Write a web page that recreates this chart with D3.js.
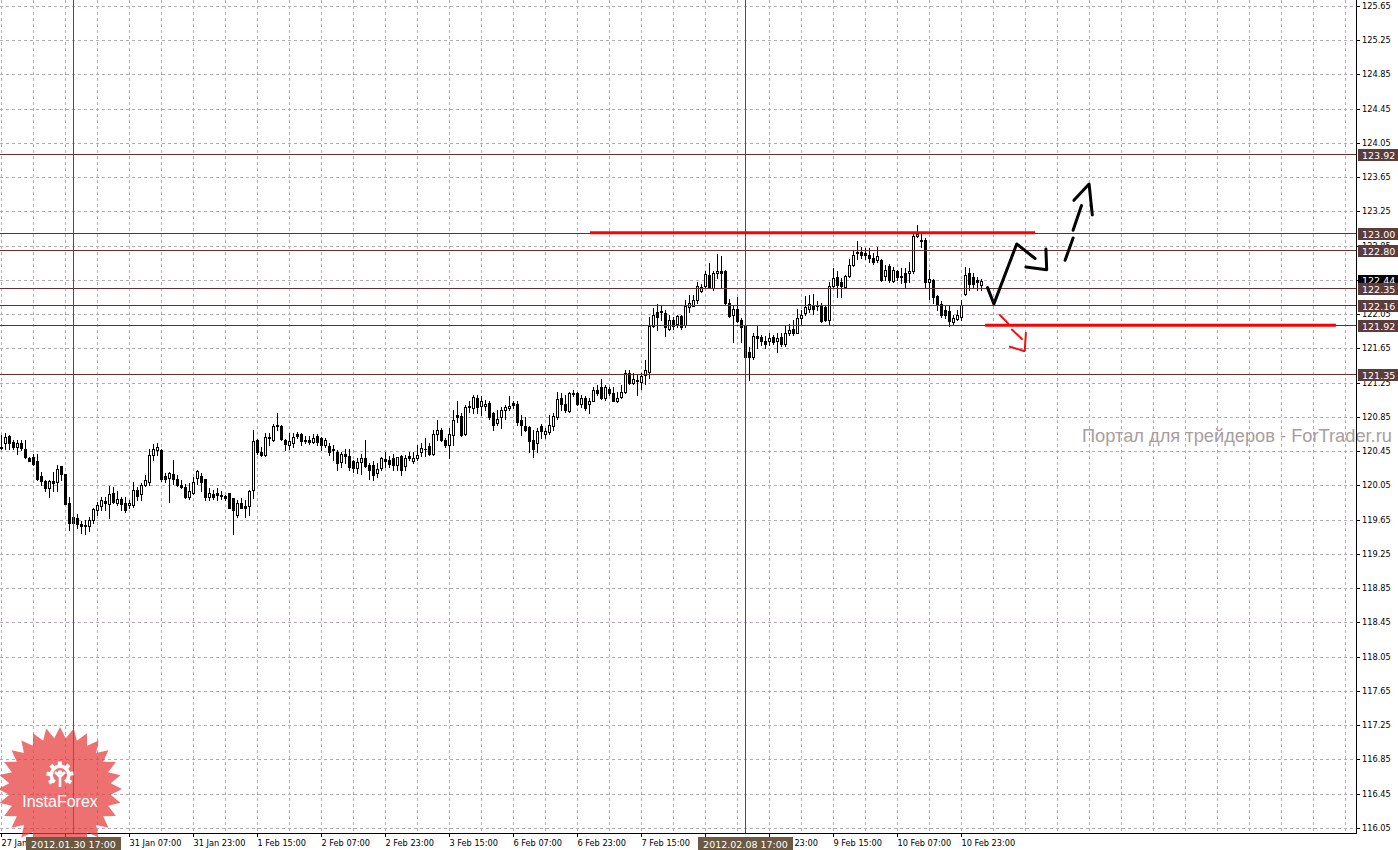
<!DOCTYPE html>
<html><head><meta charset="utf-8">
<script src="https://cdnjs.cloudflare.com/ajax/libs/d3/7.8.5/d3.min.js"></script>
<style>html,body{margin:0;padding:0;background:#fff;overflow:hidden}</style>
</head><body>
<svg id="c" width="1398" height="850" xmlns="http://www.w3.org/2000/svg"></svg>
<script>
// ---------- DATA (H1 candles, 27 Jan 23:00 .. ) ----------
const openP = [
120.50,120.55,120.63,120.56,120.50,120.55,120.47,120.37,120.38,120.33,
120.16,120.10,120.02,120.10,120.09,120.28,120.18,119.84,119.61,119.67,
119.60,119.59,119.58,119.65,119.76,119.81,119.87,119.83,119.96,119.85,
119.89,119.85,119.82,119.82,120.00,119.95,120.05,120.09,120.40,120.46,
120.46,120.16,120.14,120.18,120.12,120.05,120.03,119.92,119.96,120.14,
120.16,120.12,119.91,119.95,119.96,119.94,119.93,119.96,119.90,119.70,
119.85,119.81,119.81,120.00,120.58,120.44,120.40,120.62,120.58,120.75,
120.74,120.58,120.52,120.55,120.65,120.65,120.58,120.58,120.56,120.63,
120.60,120.52,120.51,120.46,120.44,120.32,120.42,120.39,120.33,120.25,
120.32,120.37,120.29,120.29,120.19,120.25,120.36,120.35,120.37,120.29,
120.39,120.28,120.39,120.33,120.37,120.44,120.47,120.51,120.42,120.65,
120.70,120.58,120.52,120.64,120.87,120.86,120.65,120.96,120.95,121.07,
120.98,120.98,121.01,120.89,120.78,120.85,120.93,120.95,121.01,121.00,
120.81,120.74,120.73,120.58,120.54,120.74,120.65,120.67,120.74,120.85,
121.07,121.00,120.92,121.13,121.13,121.00,121.07,121.00,121.04,121.17,
121.20,121.07,121.18,121.13,121.03,121.08,121.14,121.36,121.25,121.28,
121.26,121.34,121.38,121.91,122.07,122.07,122.06,121.88,121.98,121.94,
122.03,121.92,122.13,122.15,122.22,122.32,122.38,122.51,122.35,122.53,
122.55,122.55,122.18,122.04,122.11,121.98,121.91,121.61,121.55,121.79,
121.78,121.74,121.74,121.78,121.74,121.78,121.70,121.83,121.88,121.83,
122.01,122.06,122.11,122.16,122.14,122.16,122.13,121.98,122.38,122.48,
122.43,122.37,122.50,122.62,122.78,122.78,122.76,122.74,122.71,122.68,
122.68,122.50,122.61,122.44,122.55,122.48,122.53,122.53,122.55,122.96,
122.92,122.92,122.43,122.45,122.26,122.17,122.10,122.09,121.96,121.99,
122.02,122.29,122.53,122.49,122.45,122.39];
const highP = [
120.64,120.66,120.64,120.58,120.58,120.58,120.58,120.38,120.42,120.42,
120.21,120.11,120.11,120.21,120.29,120.28,120.18,119.92,119.70,119.72,
119.63,119.65,119.68,119.78,119.86,119.92,119.91,120.04,120.03,119.98,
119.92,119.92,119.88,120.09,120.03,120.08,120.17,120.47,120.53,120.54,
120.47,120.19,120.21,120.35,120.17,120.11,120.07,120.08,120.15,120.23,
120.19,120.13,120.02,120.00,120.02,119.99,119.94,119.96,119.90,119.88,
119.90,119.88,120.00,120.70,120.59,120.50,120.66,120.66,120.77,120.90,
120.75,120.59,120.66,120.66,120.67,120.66,120.63,120.63,120.65,120.65,
120.62,120.60,120.54,120.52,120.46,120.44,120.48,120.48,120.35,120.37,
120.42,120.58,120.31,120.33,120.31,120.38,120.44,120.39,120.42,120.38,
120.40,120.40,120.44,120.44,120.52,120.54,120.60,120.54,120.70,120.81,
120.72,120.60,120.72,120.93,121.03,120.89,120.99,121.03,121.11,121.11,
121.09,121.05,121.04,120.91,120.93,120.97,120.99,121.09,121.04,121.03,
120.87,120.85,120.74,120.70,120.72,120.77,120.72,120.87,120.89,121.14,
121.13,121.11,121.14,121.16,121.14,121.11,121.09,121.07,121.20,121.22,
121.29,121.22,121.20,121.20,121.14,121.22,121.40,121.40,121.36,121.34,
121.36,121.51,122.02,122.12,122.17,122.16,122.10,122.04,122.02,122.04,
122.04,122.22,122.27,122.27,122.43,122.40,122.55,122.65,122.55,122.75,
122.73,122.57,122.23,122.16,122.25,122.00,121.92,121.67,121.83,121.91,
121.81,121.79,121.83,121.81,121.83,121.83,121.91,121.94,121.98,122.11,
122.10,122.26,122.27,122.29,122.20,122.18,122.16,122.43,122.59,122.55,
122.47,122.51,122.69,122.79,122.90,122.84,122.82,122.82,122.76,122.84,
122.70,122.62,122.64,122.60,122.57,122.59,122.59,122.66,123.01,123.09,
122.99,122.94,122.57,122.46,122.27,122.20,122.16,122.16,122.04,122.10,
122.22,122.60,122.59,122.53,122.49,122.46];
const lowP = [
120.47,120.48,120.48,120.48,120.42,120.46,120.37,120.33,120.29,120.11,
120.05,119.99,119.91,119.99,119.98,120.11,119.83,119.53,119.58,119.55,
119.49,119.48,119.52,119.61,119.70,119.76,119.76,119.67,119.84,119.82,
119.76,119.74,119.79,119.80,119.88,119.88,120.04,120.05,120.35,120.40,
120.10,120.09,119.86,120.07,120.04,120.02,119.90,119.89,119.95,120.07,
119.99,119.88,119.88,119.89,119.88,119.89,119.88,119.78,119.48,119.68,
119.78,119.68,119.70,119.90,120.42,120.39,120.39,120.52,120.57,120.70,
120.58,120.46,120.48,120.50,120.60,120.52,120.54,120.53,120.54,120.52,
120.46,120.50,120.40,120.35,120.23,120.27,120.31,120.23,120.21,120.19,
120.18,120.27,120.13,120.11,120.15,120.23,120.27,120.27,120.23,120.23,
120.17,120.23,120.35,120.31,120.35,120.39,120.39,120.40,120.40,120.58,
120.57,120.50,120.37,120.52,120.79,120.63,120.64,120.91,120.89,120.89,
120.87,120.93,120.83,120.70,120.76,120.72,120.83,120.93,120.95,120.76,
120.64,120.68,120.44,120.38,120.44,120.60,120.60,120.65,120.70,120.83,
120.93,120.91,120.91,121.09,120.99,120.97,120.93,120.89,121.03,121.11,
121.06,121.05,121.11,121.03,121.02,121.07,121.13,121.23,121.23,121.11,
121.18,121.24,121.30,121.90,121.87,121.98,121.79,121.86,121.88,121.90,
121.88,121.90,122.08,122.14,122.18,122.31,122.35,122.35,122.33,122.47,
122.37,122.16,122.02,121.73,121.96,121.73,121.50,121.28,121.53,121.65,
121.69,121.65,121.69,121.70,121.61,121.68,121.68,121.81,121.81,121.83,
121.94,122.04,122.08,122.05,122.10,121.96,121.97,121.92,122.37,122.25,
122.25,122.35,122.49,122.61,122.70,122.71,122.70,122.66,122.64,122.66,
122.44,122.45,122.43,122.43,122.45,122.42,122.35,122.43,122.53,122.95,
122.84,122.35,122.23,122.18,122.10,122.02,122.00,121.91,121.92,121.98,
121.98,122.27,122.33,122.37,122.33,122.33];
const closeP = [
120.49,120.62,120.54,120.50,120.54,120.49,120.38,120.33,120.30,120.13,
120.10,120.02,120.10,120.08,120.24,120.18,119.83,119.61,119.68,119.60,
119.58,119.57,119.65,119.77,119.82,119.88,119.84,119.95,119.86,119.89,
119.83,119.76,119.85,120.00,119.93,120.06,120.11,120.40,120.48,120.50,
120.12,120.13,120.20,120.12,120.05,120.03,119.91,119.98,120.09,120.22,
120.09,119.92,119.96,119.91,119.94,119.93,119.90,119.79,119.76,119.84,
119.79,119.79,119.99,120.57,120.44,120.40,120.62,120.60,120.74,120.74,
120.59,120.53,120.57,120.62,120.63,120.57,120.57,120.56,120.60,120.56,
120.52,120.58,120.44,120.47,120.31,120.42,120.39,120.27,120.25,120.32,
120.37,120.28,120.23,120.17,120.24,120.37,120.34,120.30,120.29,120.38,
120.23,120.37,120.37,120.37,120.40,120.49,120.48,120.42,120.65,120.70,
120.58,120.52,120.65,120.81,120.85,120.64,120.96,120.98,121.08,120.97,
121.03,121.00,120.85,120.76,120.82,120.93,120.96,120.98,120.99,120.79,
120.76,120.70,120.57,120.48,120.69,120.68,120.69,120.76,120.86,121.06,
121.00,120.93,121.13,121.12,121.00,121.07,120.95,121.04,121.17,121.13,
121.07,121.20,121.13,121.04,121.07,121.14,121.36,121.25,121.29,121.27,
121.33,121.40,121.91,122.04,122.02,122.09,121.90,121.98,121.91,122.03,
121.90,122.15,122.18,122.21,122.38,122.37,122.52,122.37,122.53,122.55,
122.53,122.18,122.03,122.11,121.97,121.90,121.55,121.55,121.79,121.77,
121.74,121.70,121.77,121.73,121.77,121.70,121.83,121.87,121.83,122.01,
122.04,122.13,122.17,122.11,122.16,121.97,121.98,122.38,122.47,122.39,
122.38,122.50,122.62,122.74,122.76,122.74,122.74,122.71,122.66,122.73,
122.45,122.57,122.45,122.57,122.49,122.50,122.43,122.56,122.96,122.99,
122.90,122.43,122.46,122.25,122.17,122.04,122.04,121.97,122.01,122.04,
122.16,122.51,122.40,122.40,122.43,122.44];

// axis ticks
const yTickLabels = ["116.05","116.45","116.85","117.25","117.65","118.05","118.45","118.85","119.25","119.65",
  "120.05","120.45","120.85","121.25","121.65","122.05","122.45","122.85","123.25","123.65",
  "124.05","124.45","124.85","125.25","125.65"];
const xTickBars = [0,16,32,48,64,80,96,112,128,144,160,176,192,208,224,240];
const xTickLabels = ["27 Jan 23:00","30 Jan 15:00","31 Jan 07:00","31 Jan 23:00","1 Feb 15:00","2 Feb 07:00",
  "2 Feb 23:00","3 Feb 15:00","6 Feb 07:00","6 Feb 23:00","7 Feb 15:00","8 Feb 07:00","8 Feb 23:00",
  "9 Feb 15:00","10 Feb 07:00","10 Feb 23:00"];

// horizontal levels
const levelPrices = [123.92,123.00,122.80,122.35,122.16,121.92,121.35];
const levelLabels = ["123.92","123.00","122.80","122.35","122.16","121.92","121.35"];
const bidPrice = 122.44, bidLabel = "122.44";
// crosshairs
const crossBars = [18,186];
const crossLabels = ["2012.01.30 17:00","2012.02.08 17:00"];
// red support/resistance (price, fromBar, toBar)
const redPrices = [123.00,121.92];
const redFrom = [147.1,245.9];
const redTo = [258.4,333.6];
// drawn forecast (bar index, price)
const zigBars = [246.5,248.1,253.8,258.4];
const zigPrices = [122.36,122.17,122.87,122.70];
const headBars = [256.1,261.3,261.1];
const headPrices = [122.60,122.57,122.81];
const upSegBars = [[265.9,267.9],[267.9,270.0]];
const upSegPrices = [[122.68,122.94],[123.03,123.32]];
const upHeadBars = [268.1,271.9,272.7];
const upHeadPrices = [123.38,123.57,123.21];
const dnSegBars = [[249.6,251.7],[252.6,255.1]];
const dnSegPrices = [[122.04,121.94],[121.87,121.76]];
const dnHeadBars = [[256.1,255.8],[252.1,255.6]];
const dnHeadPrices = [[121.83,121.62],[121.67,121.62]];
const watermark = "Портал для трейдеров - ForTrader.ru";
const logoText = "InstaForex";

// ---------- RENDER ----------
const plotR = 1356, plotB = 833;
const x = d3.scaleLinear().domain([0,1]).range([1.5,5.5]);
const y = d3.scaleLinear().domain([116.05,125.65]).range([827.8,6]);
const yTicks = yTickLabels.map(Number);
const py = v => Math.round(y(v)) + 0.5;
const svg = d3.select('#c');
const gridColor = '#b3aab6';
const font = "'DejaVu Sans', sans-serif";

svg.append('rect').attr('width',1398).attr('height',850).attr('fill','#fff');
const defs = svg.append('defs');

const g = svg.append('g').attr('shape-rendering','crispEdges');
// grid
g.append('g').selectAll('line').data(yTicks).join('line')
  .attr('x1',0).attr('x2',plotR).attr('y1',d=>py(d)).attr('y2',d=>py(d))
  .attr('stroke',gridColor).attr('stroke-dasharray','3,3');
const vBars = d3.range(0,340,8).filter(i=>x(i)<plotR-2);
g.append('g').selectAll('line').data(vBars).join('line')
  .attr('x1',d=>x(d)).attr('x2',d=>x(d)).attr('y1',0).attr('y2',plotB)
  .attr('stroke',gridColor).attr('stroke-dasharray','3,3');

// candles
const candles = g.append('g');
openP.forEach((o,i)=>{
  const c = closeP[i];
  const hi = Math.max(highP[i],o,c), lo = Math.min(lowP[i],o,c);
  const cx = x(i);
  candles.append('line').attr('x1',cx).attr('x2',cx).attr('y1',Math.round(y(hi))).attr('y2',Math.round(y(lo))+1)
    .attr('stroke','#000').attr('stroke-width',1);
  const top = Math.round(y(Math.max(o,c))), bot = Math.round(y(Math.min(o,c)));
  if (bot - top < 1) {
    candles.append('rect').attr('x',cx-1.5).attr('y',top).attr('width',3).attr('height',1).attr('fill','#000');
  } else if (c >= o) {
    candles.append('rect').attr('x',cx-1).attr('y',top+0.5).attr('width',2).attr('height',bot-top)
      .attr('fill','#fff').attr('stroke','#000').attr('stroke-width',1);
  } else {
    candles.append('rect').attr('x',cx-1.5).attr('y',top).attr('width',3).attr('height',bot-top+1).attr('fill','#000');
  }
});

// level lines
g.append('g').selectAll('line').data(levelPrices).join('line')
  .attr('x1',0).attr('x2',plotR).attr('y1',d=>py(d)).attr('y2',d=>py(d))
  .attr('stroke','#6a2c2c').attr('stroke-width',1);

// crosshair verticals
g.append('g').selectAll('line').data(crossBars).join('line')
  .attr('x1',d=>x(d)).attr('x2',d=>x(d)).attr('y1',0).attr('y2',plotB)
  .attr('stroke','#5e4a3c').attr('stroke-width',1);

// red lines
const ann = svg.append('g');
redPrices.forEach((p,k)=>{
  ann.append('line').attr('x1',x(redFrom[k])).attr('x2',x(redTo[k])).attr('y1',y(p)).attr('y2',y(p))
    .attr('stroke','#ff0000').attr('stroke-width',3);
});
const ln = d3.line().x(d=>x(d[0])).y(d=>y(d[1]));
const blk = {fill:'none',stroke:'#000','stroke-width':3,'stroke-linecap':'round','stroke-linejoin':'round'};
function draw(pts, st){ const p = ann.append('path').attr('d',ln(pts)); Object.entries(st).forEach(([k,v])=>p.attr(k,v)); }
draw(zigBars.map((b,i)=>[b,zigPrices[i]]), blk);
draw(headBars.map((b,i)=>[b,headPrices[i]]), blk);
upSegBars.forEach((s,k)=>draw([[s[0],upSegPrices[k][0]],[s[1],upSegPrices[k][1]]], blk));
draw(upHeadBars.map((b,i)=>[b,upHeadPrices[i]]), blk);
const red = {fill:'none',stroke:'#f01010','stroke-width':2,'stroke-linecap':'round'};
dnSegBars.forEach((s,k)=>draw([[s[0],dnSegPrices[k][0]],[s[1],dnSegPrices[k][1]]], red));
dnHeadBars.forEach((s,k)=>draw([[s[0],dnHeadPrices[k][0]],[s[1],dnHeadPrices[k][1]]], red));

// watermark
const wm = svg.append('text').attr('x',1082).attr('y',442).attr('fill','#a79e9f')
  .attr('font-family',"'Liberation Sans', Arial, sans-serif").attr('font-size',16).text(watermark);
const wl = wm.node().getComputedTextLength();
wm.attr('font-size', 16*310/wl);

// axes frame
const ax = svg.append('g').attr('shape-rendering','crispEdges');
ax.append('line').attr('x1',0).attr('x2',plotR+1).attr('y1',plotB+0.5).attr('y2',plotB+0.5).attr('stroke','#000');
ax.append('line').attr('x1',plotR+0.5).attr('x2',plotR+0.5).attr('y1',0).attr('y2',plotB+1).attr('stroke','#000');
ax.selectAll('.yt').data(yTicks).join('line').attr('class','yt')
  .attr('x1',plotR+1).attr('x2',plotR+4).attr('y1',d=>py(d)).attr('y2',d=>py(d)).attr('stroke','#000');
ax.selectAll('.xt').data(xTickBars).join('line').attr('class','xt')
  .attr('x1',d=>x(d)).attr('x2',d=>x(d)).attr('y1',plotB+1).attr('y2',plotB+4).attr('stroke','#000');

// logo (semi-transparent starburst)
const logo = svg.append('g').attr('transform','translate(60,789)');
const nPts = 28, R1 = 62, R0 = 51;
const starPts = d3.range(nPts*2).map(k=>{
  const a = k*Math.PI/nPts - Math.PI/2, r = k%2===0 ? R1 : R0;
  return [r*Math.cos(a), r*Math.sin(a)];
});
logo.append('path').attr('d','M'+starPts.map(p=>p.join(',')).join('L')+'Z')
  .attr('fill','#e83a3a').attr('fill-opacity',0.72);
const icon = logo.append('g').attr('transform','translate(0,-14)');
icon.append('path').attr('d', d3.arc().innerRadius(7).outerRadius(10.5).startAngle(-2.5).endAngle(2.5)())
  .attr('fill','#fff');
d3.range(-2.2,2.3,0.73).forEach(a=>{
  icon.append('rect').attr('x',-2).attr('y',-13.5).attr('width',4).attr('height',4).attr('fill','#fff')
    .attr('transform',`rotate(${a*180/Math.PI})`);
});
icon.append('circle').attr('cx',0).attr('cy',-2.5).attr('r',2.3).attr('fill','#fff');
icon.append('path').attr('d','M-5,-3 L0,2 L5,-3 M0,1 L0,12').attr('stroke','#fff').attr('stroke-width',2.6).attr('fill','none');
logo.append('text').attr('x',0).attr('y',18).attr('text-anchor','middle').attr('fill','#fff')
  .attr('font-family',"'Liberation Sans', Arial, sans-serif").attr('font-size',16).text(logoText);

// crosshair label boxes span (used to hide covered tick labels, like the terminal does)
const boxW = 95;
const boxL = b => Math.round(x(b)) - 48;

// y tick labels (the one under the bid box is hidden, as in the terminal)
svg.append('g').selectAll('text').data(yTickLabels.filter(d=>Math.abs(y(+d)-y(bidPrice))>3)).join('text')
  .attr('x',1362).attr('y',d=>Math.round(y(+d))+3).attr('font-family',font).attr('font-size',8.2)
  .attr('fill','#000').text(d=>d);

// x tick labels, clipped where the crosshair boxes cover them
const clipL = defs.append('clipPath').attr('id','xclip');
clipL.append('rect').attr('x',-10).attr('y',830).attr('width',boxL(crossBars[0])+10).attr('height',30);
clipL.append('rect').attr('x',boxL(crossBars[0])+boxW).attr('y',830).attr('width',boxL(crossBars[1])-boxL(crossBars[0])-boxW).attr('height',30);
clipL.append('rect').attr('x',boxL(crossBars[1])+boxW).attr('y',830).attr('width',1398).attr('height',30);
const labelW = 52;
const visibleX = xTickBars.map((b,i)=>({b,t:xTickLabels[i]}))
  .filter(d=>!crossBars.some(cb=>x(d.b)>=boxL(cb) && x(d.b)+labelW<=boxL(cb)+boxW));
svg.append('g').attr('clip-path','url(#xclip)').selectAll('text').data(visibleX).join('text')
  .attr('x',d=>x(d.b)).attr('y',846).attr('font-family',font).attr('font-size',8.2)
  .attr('fill','#000').text(d=>d.t);

// bid box
const lb = svg.append('g').attr('shape-rendering','crispEdges');
lb.append('rect').attr('x',1358).attr('y',Math.round(y(bidPrice))-6).attr('width',40).attr('height',12).attr('fill','#000');
lb.append('text').attr('x',1362).attr('y',Math.round(y(bidPrice))+3).attr('fill','#fff').attr('font-family',font)
  .attr('font-size',9.5).text(bidLabel);
// level boxes
levelPrices.forEach((p,k)=>{
  const yy = Math.round(y(p));
  lb.append('rect').attr('x',1358).attr('y',yy-5.5).attr('width',40).attr('height',12).attr('fill','#5c3b3b');
  lb.append('text').attr('x',1362).attr('y',yy+4.5).attr('fill','#fff').attr('font-family',font)
    .attr('font-size',9.5).text(levelLabels[k]);
});
// crosshair boxes
crossBars.forEach((b,k)=>{
  lb.append('rect').attr('x',boxL(b)).attr('y',837).attr('width',boxW).attr('height',13).attr('fill','#6b5944');
  lb.append('text').attr('x',x(b)).attr('y',847.5).attr('text-anchor','middle').attr('fill','#fff')
    .attr('font-family',font).attr('font-size',9.5).text(crossLabels[k]);
});
</script>
</body></html>
